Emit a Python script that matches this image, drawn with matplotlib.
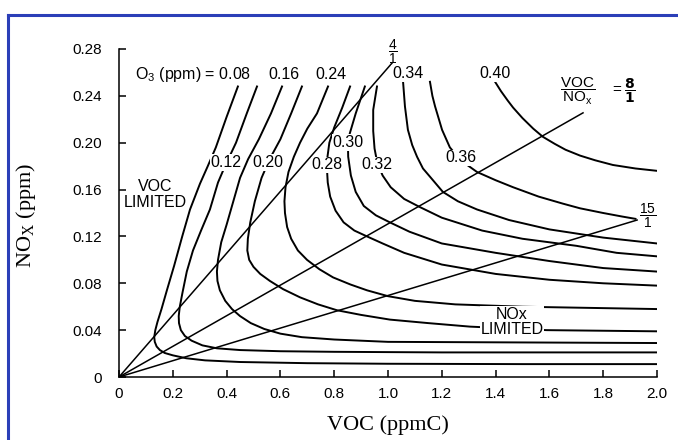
import matplotlib.pyplot as plt
from matplotlib.lines import Line2D

plt.rcParams['font.family'] = ['Liberation Sans', 'DejaVu Sans']
plt.rcParams['mathtext.fontset'] = 'custom'
plt.rcParams['mathtext.rm'] = 'Liberation Sans'
plt.rcParams['mathtext.it'] = 'Liberation Sans'

# ozone isopleths (VOC ppmC, NOx ppm)
iso_levels = ['0.08', '0.12', '0.16', '0.20', '0.24', '0.28', '0.30', '0.32', '0.34', '0.36', '0.40']
iso_x = [
    [0.442, 0.40, 0.36, 0.33, 0.301, 0.264, 0.235, 0.205, 0.178, 0.158, 0.143, 0.135, 0.131, 0.133, 0.140,
     0.152, 0.170, 0.20, 0.25, 0.32, 0.45, 0.7, 1.0, 1.5, 2.0],
    [0.513, 0.475, 0.435, 0.394, 0.368, 0.338, 0.305, 0.275, 0.252, 0.236, 0.226, 0.222, 0.223, 0.230, 0.245,
     0.270, 0.31, 0.364, 0.45, 0.6, 0.8, 1.2, 2.0],
    [0.606, 0.565, 0.52, 0.480, 0.450, 0.425, 0.400, 0.380, 0.368, 0.364, 0.366, 0.375, 0.395, 0.420, 0.450,
     0.490, 0.54, 0.60, 0.68, 0.8, 1.0, 1.5, 2.0],
    [0.680, 0.64, 0.60, 0.560, 0.530, 0.505, 0.488, 0.479, 0.477, 0.484, 0.500, 0.525, 0.561, 0.61, 0.673,
     0.74, 0.81, 0.90, 1.007, 1.15, 1.305, 1.59, 2.0],
    [0.777, 0.736, 0.700, 0.673, 0.650, 0.630, 0.619, 0.615, 0.617, 0.625, 0.640, 0.665, 0.699, 0.745, 0.796,
     0.86, 0.922, 1.0, 1.1, 1.25, 1.5, 2.0],
    [0.859, 0.83, 0.80, 0.782, 0.775, 0.773, 0.776, 0.785, 0.805, 0.835, 0.875, 0.922, 0.98, 1.06, 1.2,
     1.4, 1.6, 1.8, 2.0],
    [0.914, 0.88, 0.858, 0.851, 0.852, 0.862, 0.88, 0.91, 0.955, 1.007, 1.08, 1.2, 1.4, 1.6, 1.8, 2.0],
    [0.959, 0.945, 0.945, 0.950, 0.960, 0.980, 1.01, 1.06, 1.119, 1.2, 1.35, 1.5, 1.7, 1.85, 2.0],
    [1.056, 1.060, 1.063, 1.074, 1.090, 1.108, 1.130, 1.156, 1.204, 1.26, 1.331, 1.45, 1.6, 1.8, 2.0],
    [1.156, 1.165, 1.175, 1.201, 1.230, 1.270, 1.331, 1.40, 1.465, 1.56, 1.65, 1.714, 1.80, 1.87, 1.92],
    [1.398, 1.420, 1.445, 1.465, 1.50, 1.54, 1.576, 1.62, 1.66, 1.714, 1.77, 1.836, 1.92, 2.0],
]
iso_y = [
    [0.248, 0.222, 0.196, 0.180, 0.165, 0.143, 0.120, 0.095, 0.074, 0.058, 0.047, 0.040, 0.034, 0.030, 0.026,
     0.023, 0.0205, 0.0185, 0.016, 0.0142, 0.0128, 0.0118, 0.0113, 0.011, 0.011],
    [0.248, 0.225, 0.200, 0.180, 0.166, 0.143, 0.125, 0.108, 0.090, 0.072, 0.060, 0.052, 0.046, 0.040, 0.035,
     0.031, 0.027, 0.0245, 0.023, 0.022, 0.0215, 0.021, 0.021],
    [0.248, 0.225, 0.203, 0.186, 0.170, 0.150, 0.130, 0.115, 0.100, 0.090, 0.082, 0.074, 0.065, 0.058, 0.052,
     0.046, 0.041, 0.037, 0.034, 0.032, 0.030, 0.0295, 0.029],
    [0.248, 0.225, 0.203, 0.186, 0.170, 0.150, 0.132, 0.118, 0.108, 0.100, 0.094, 0.088, 0.082, 0.075, 0.068,
     0.062, 0.057, 0.053, 0.049, 0.046, 0.043, 0.040, 0.039],
    [0.248, 0.225, 0.212, 0.200, 0.188, 0.175, 0.162, 0.150, 0.140, 0.128, 0.118, 0.108, 0.100, 0.092, 0.085,
     0.079, 0.074, 0.069, 0.065, 0.062, 0.060, 0.058],
    [0.248, 0.230, 0.213, 0.200, 0.188, 0.178, 0.166, 0.154, 0.142, 0.132, 0.125, 0.120, 0.114, 0.106, 0.096,
     0.088, 0.083, 0.080, 0.078],
    [0.248, 0.225, 0.208, 0.200, 0.188, 0.172, 0.158, 0.146, 0.138, 0.132, 0.124, 0.114, 0.106, 0.099, 0.093,
     0.090],
    [0.248, 0.228, 0.210, 0.195, 0.183, 0.172, 0.162, 0.152, 0.145, 0.136, 0.125, 0.118, 0.112, 0.106, 0.103],
    [0.252, 0.240, 0.231, 0.211, 0.198, 0.188, 0.178, 0.171, 0.158, 0.150, 0.143, 0.134, 0.126, 0.119, 0.114],
    [0.252, 0.240, 0.231, 0.211, 0.196, 0.185, 0.175, 0.168, 0.162, 0.154, 0.148, 0.144, 0.140, 0.137, 0.135],
    [0.252, 0.244, 0.236, 0.230, 0.221, 0.212, 0.205, 0.199, 0.194, 0.189, 0.185, 0.181, 0.178, 0.176],
]

# VOC/NOx ratio lines drawn from the origin to these end points
ratio_names = ['4', '8', '15']
ratio_end_x = [1.015, 1.725, 1.926]
ratio_end_y = [0.268, 0.2255, 0.134]

x_ticks = [0, 0.2, 0.4, 0.6, 0.8, 1.0, 1.2, 1.4, 1.6, 1.8, 2.0]
x_tick_labels = ['0', '0.2', '0.4', '0.6', '0.8', '1.0', '1.2', '1.4', '1.6', '1.8', '2.0']
y_ticks = [0, 0.04, 0.08, 0.12, 0.16, 0.20, 0.24, 0.28]
y_tick_labels = ['0', '0.04', '0.08', '0.12', '0.16', '0.20', '0.24', '0.28']

fig = plt.figure(figsize=(6.78, 4.40), dpi=100)
ax = fig.add_axes([119 / 678, 63 / 440, 538 / 678, 328 / 440])

for xs, ys in zip(iso_x, iso_y):
    ax.plot(xs, ys, color='black', lw=1.4, solid_joinstyle='round')

for ex, ey in zip(ratio_end_x, ratio_end_y):
    ax.plot([0, ex], [0, ey], color='black', lw=1.1)

ax.set_xlim(0, 2.0)
ax.set_ylim(0, 0.28)
ax.set_xticks(x_ticks)
ax.set_xticklabels(x_tick_labels)
ax.set_yticks(y_ticks)
ax.set_yticklabels(y_tick_labels)
ax.spines['top'].set_visible(False)
ax.spines['right'].set_visible(False)
for s in ['left', 'bottom']:
    ax.spines[s].set_linewidth(1.1)
ax.tick_params(direction='in', length=5, width=1.1, labelsize=11)
ax.tick_params(axis='y', pad=12)
ax.tick_params(axis='x', pad=7)

serif = ['Liberation Serif', 'DejaVu Serif']
ax.set_xlabel('VOC (ppmC)', family=serif, fontsize=16)
ax.set_ylabel(r'NO$_\mathregular{X}$ (ppm)', family=serif, fontsize=16)
ax.xaxis.set_label_coords(0.5, -0.118)
ax.yaxis.set_label_coords(-0.15, 0.494)

box = dict(facecolor='white', edgecolor='none', pad=0.6)
lab = dict(fontsize=11.5, ha='center', va='center', bbox=box)

# isopleth labels
ax.text(0.492, 0.258, r'O$_\mathregular{3}$ (ppm) = 0.08', fontsize=11.5, ha='right', va='center')
ax.text(0.613, 0.258, '0.16', **lab)
ax.text(0.788, 0.258, '0.24', **lab)
ax.text(1.074, 0.259, '0.34', **lab)
ax.text(1.398, 0.259, '0.40', **lab)
ax.text(0.398, 0.183, '0.12', **lab)
ax.text(0.554, 0.183, '0.20', **lab)
ax.text(0.851, 0.200, '0.30', **lab)
ax.text(0.773, 0.181, '0.28', **lab)
ax.text(0.959, 0.181, '0.32', **lab)
ax.text(1.271, 0.187, '0.36', **lab)

ax.text(0.134, 0.156, 'VOC\nLIMITED', fontsize=11.5, ha='center', va='center', linespacing=1.05)
ax.text(1.461, 0.047, 'NOx\nLIMITED', fontsize=11.5, ha='center', va='center',
        linespacing=1.05, bbox=dict(facecolor='white', edgecolor='none', pad=0.5))

# ratio labels
ax.text(1.019, 0.2775, r'$\dfrac{4}{1}$', fontsize=10, ha='center', va='center')
ax.text(1.967, 0.138, r'$\dfrac{15}{1}$', fontsize=10, ha='center', va='center')
ax.text(1.703, 0.244, r'$\dfrac{\mathregular{VOC}}{\mathregular{NO_x}}$', fontsize=11, ha='center', va='center')
ax.text(1.851, 0.245, '=', fontsize=11, ha='center', va='center')
ax.text(1.90, 0.244, r'$\dfrac{\mathbf{8}}{\mathbf{1}}$', fontsize=10, ha='center', va='center')

# blue frame round the slide
fig.add_artist(Line2D([8 / 678, 8 / 678], [0, 1 - 15 / 440], color='#2b3fb8', lw=2.2))
fig.add_artist(Line2D([8 / 678, 1], [1 - 15 / 440, 1 - 15 / 440], color='#2b3fb8', lw=2.2))

fig.savefig('out.png', dpi=100)
